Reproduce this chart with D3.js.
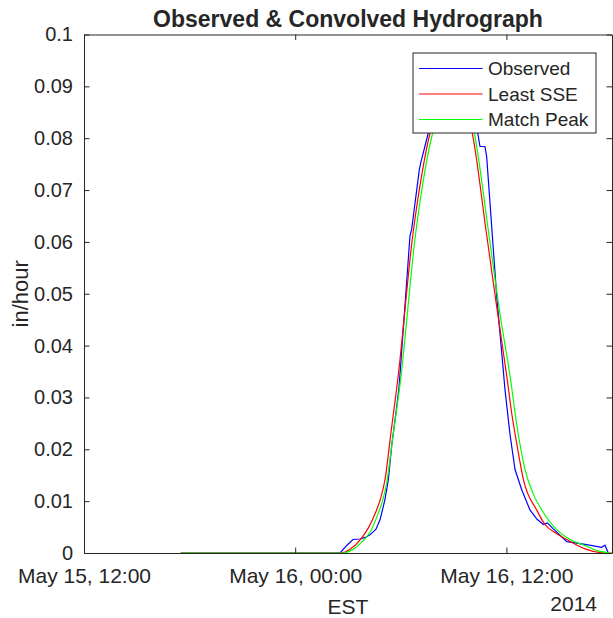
<!DOCTYPE html>
<html>
<head>
<meta charset="utf-8">
<script src="https://cdn.jsdelivr.net/npm/d3@7"></script>
<style>
  html, body { margin: 0; padding: 0; background: #fff; }
  svg { display: block; }
  text { font-family: "Liberation Sans", Arial, Helvetica, sans-serif; fill: #262626; }
</style>
</head>
<body>
<svg id="chart" width="613" height="618"></svg>
<script>
// ---- Data (hours after 2014-05-15 12:00 EST, value in in/hour) ----
const seriesNames = ["Observed", "Least SSE", "Match Peak"];
const seriesColors = ["#0000ff", "#ff0000", "#00ff00"];

const obsHours = [5.5, 14.55, 14.94, 15.28, 15.68, 15.97, 16.25, 16.59, 16.82, 17.10, 17.29, 17.48, 17.77, 17.90,
  18.14, 18.52, 18.62, 19.05, 19.13, 19.56, 20.0, 20.51, 21.02, 21.53, 21.99, 22.37, 22.5, 22.78, 22.88,
  23.45, 23.92, 24.2, 24.49, 24.87, 25.34, 25.74, 26.1, 26.33, 26.65, 27.43, 28.56, 29.41, 29.6, 29.79];
const obsValues = [0, 0, 0.0015, 0.0026, 0.0027, 0.0030, 0.0035, 0.0046, 0.0064, 0.0103, 0.0141, 0.0206, 0.0283, 0.0320,
  0.0431, 0.0611, 0.0625, 0.0739, 0.0752, 0.0810, 0.0860, 0.0895, 0.0905, 0.0890, 0.0850, 0.0810, 0.0784, 0.0784, 0.0764,
  0.0495, 0.0315, 0.0230, 0.0161, 0.0122, 0.0083, 0.0065, 0.0055, 0.0058, 0.0047, 0.0022, 0.0016, 0.0011, 0.0015, 0];

const sseHours = [5.5, 14.6, 15.11, 15.68, 16.15, 16.59, 16.85, 17.10, 17.44, 17.84, 18.67, 19.24, 19.66, 20.23, 20.80,
  21.42, 22.06, 22.84, 23.47, 24.05, 24.3, 24.62, 24.97, 25.72, 26.19, 26.82, 27.43, 28.47, 29.32, 30];
const sseValues = [0, 0, 0.0007, 0.0025, 0.0048, 0.0080, 0.0105, 0.0141, 0.0232, 0.0338, 0.0610, 0.0739, 0.0810, 0.0865, 0.0895,
  0.0875, 0.0810, 0.0623, 0.0470, 0.0334, 0.0270, 0.0205, 0.0141, 0.0083, 0.0055, 0.0038, 0.0026, 0.0008, 0.0001, 0];

const peakHours = [5.5, 14.72, 15.23, 15.80, 16.25, 16.70, 17.0, 17.20, 17.54, 17.99, 18.82, 19.38, 19.81, 20.40, 20.97,
  21.59, 22.18, 22.97, 23.64, 24.24, 24.6, 25.06, 25.51, 26.01, 26.86, 27.61, 28.35, 29.2, 29.89];
const peakValues = [0, 0, 0.0006, 0.0022, 0.0040, 0.0075, 0.0105, 0.0135, 0.0222, 0.0335, 0.0610, 0.0739, 0.0810, 0.0868, 0.0905,
  0.0880, 0.0810, 0.0623, 0.0460, 0.0334, 0.0245, 0.0161, 0.0115, 0.0083, 0.0045, 0.0026, 0.0016, 0.0004, 0];

const xTickHours = [0, 12, 24];
const xTickLabels = ["May 15, 12:00", "May 16, 00:00", "May 16, 12:00"];
const yTickValues = [0, 0.01, 0.02, 0.03, 0.04, 0.05, 0.06, 0.07, 0.08, 0.09, 0.1];
const yTickLabels = ["0", "0.01", "0.02", "0.03", "0.04", "0.05", "0.06", "0.07", "0.08", "0.09", "0.1"];

const titleText = "Observed & Convolved Hydrograph";
const yLabelText = "in/hour";
const xLabelText = "EST";
const yearText = "2014";

// ---- Layout ----
const W = 613, H = 618;
const plot = { left: 84, top: 34.5, right: 612, bottom: 553 };
const base = Date.UTC(2014, 4, 15, 12);
const toDate = h => new Date(base + h * 3600e3);

const x = d3.scaleUtc().domain([toDate(0), toDate(30)]).range([plot.left, plot.right]);
const y = d3.scaleLinear().domain([0, 0.1]).range([plot.bottom, plot.top]);

const svg = d3.select("#chart");
svg.append("rect").attr("width", W).attr("height", H).attr("fill", "#fff");

svg.append("defs").append("clipPath").attr("id", "clip")
  .append("rect").attr("x", plot.left).attr("y", plot.top)
  .attr("width", plot.right - plot.left).attr("height", plot.bottom - plot.top);

const series = [
  { hours: obsHours, values: obsValues, curve: d3.curveLinear },
  { hours: sseHours, values: sseValues, curve: d3.curveMonotoneX },
  { hours: peakHours, values: peakValues, curve: d3.curveMonotoneX }
];

const linesG = svg.append("g").attr("clip-path", "url(#clip)");
series.forEach((s, i) => {
  const pts = s.hours.map((h, k) => [toDate(h), s.values[k]]);
  const line = d3.line().x(d => x(d[0])).y(d => y(d[1])).curve(s.curve);
  linesG.append("path").attr("d", line(pts)).attr("fill", "none")
    .attr("stroke", seriesColors[i]).attr("stroke-width", 1.2);
});

// ---- Axes ----
const yFont = 20, xFont = 21;
const tick = 5.5;
const axisColor = "#262626";
const xTicks = xTickHours.map(toDate);

function styleAxis(g, fs) {
  g.selectAll(".domain").attr("stroke", axisColor).attr("stroke-width", 1);
  g.selectAll(".tick line").attr("stroke", axisColor).attr("stroke-width", 1);
  g.selectAll(".tick text").attr("fill", axisColor).style("font-size", fs + "px")
    .style("font-family", '"Liberation Sans", Arial, sans-serif');
}

svg.append("g").attr("transform", `translate(0,${plot.bottom})`)
  .call(d3.axisBottom(x).tickValues(xTicks).tickSizeInner(-tick).tickSizeOuter(0).tickPadding(15)
    .tickFormat((d, i) => xTickLabels[i]))
  .call(styleAxis, xFont);
svg.append("g").attr("transform", `translate(0,${plot.top})`)
  .call(d3.axisTop(x).tickValues(xTicks).tickSizeInner(-tick).tickSizeOuter(0).tickFormat(""))
  .call(styleAxis, xFont);
svg.append("g").attr("transform", `translate(${plot.left},0)`)
  .call(d3.axisLeft(y).tickValues(yTickValues).tickSizeInner(-tick).tickSizeOuter(0).tickPadding(11)
    .tickFormat((d, i) => yTickLabels[i]))
  .call(styleAxis, yFont);
svg.append("g").attr("transform", `translate(${plot.right},0)`)
  .call(d3.axisRight(y).tickValues(yTickValues).tickSizeInner(-tick).tickSizeOuter(0).tickFormat(""))
  .call(styleAxis, yFont);

// ---- Labels ----
svg.append("text").attr("x", (plot.left + plot.right) / 2).attr("y", 27)
  .attr("text-anchor", "middle").style("font-size", "23px").style("font-weight", "bold")
  .attr("fill", "#000").text(titleText);
svg.append("text").attr("transform", `translate(28,${(plot.top + plot.bottom) / 2}) rotate(-90)`)
  .attr("text-anchor", "middle").style("font-size", "22px").text(yLabelText);
svg.append("text").attr("x", (plot.left + plot.right) / 2).attr("y", 614)
  .attr("text-anchor", "middle").style("font-size", "21px").text(xLabelText);
svg.append("text").attr("x", 597).attr("y", 611)
  .attr("text-anchor", "end").style("font-size", "21px").text(yearText);

// ---- Legend ----
const lg = { x: 413, y: 53, w: 183, h: 80 };
const legend = svg.append("g");
legend.append("rect").attr("x", lg.x).attr("y", lg.y).attr("width", lg.w).attr("height", lg.h)
  .attr("fill", "#fff").attr("stroke", axisColor).attr("stroke-width", 1);
seriesNames.forEach((name, i) => {
  const yy = 68.5 + i * 25.5;
  legend.append("line").attr("x1", 419).attr("x2", 482.5).attr("y1", yy).attr("y2", yy)
    .attr("stroke", seriesColors[i]).attr("stroke-width", 1.2);
  legend.append("text").attr("x", 488).attr("y", yy).attr("dy", "0.35em")
    .style("font-size", "19px").text(name);
});
</script>
</body>
</html>
